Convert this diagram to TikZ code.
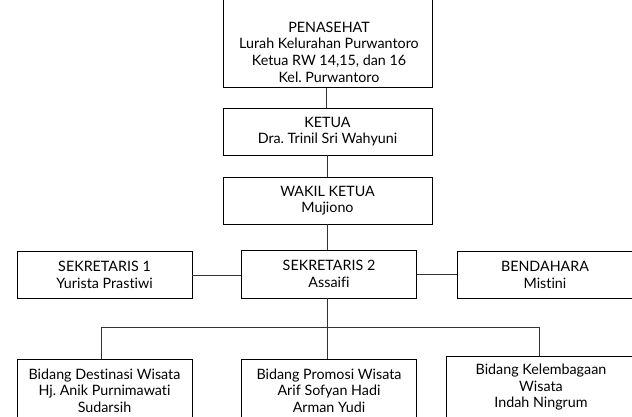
\documentclass[tikz,border=0pt]{standalone}
\usepackage{fontspec}
\setmainfont[Ligatures=NoCommon]{Lato}
\frenchspacing
\begin{document}
\begin{tikzpicture}[x=1pt,y=-1pt,
  box/.style={draw=black,line width=0.8pt,fill=white,inner sep=0pt,align=center,
    font=\fontsize{14.3}{16.6}\selectfont,text=black},
  txt/.style={inner sep=0pt,align=center,font=\fontsize{14.3}{16.6}\selectfont,text=black},
  conn/.style={draw=black!80,line width=0.8pt}]
\useasboundingbox (0,0) rectangle (632,416);
\clip (0,0) rectangle (632,416);
% boxes
\node[box,minimum width=209pt,minimum height=120pt,anchor=south] (pen) at (327.5,88) {};
\node[txt] (pentxt) at (329,52) {PENASEHAT\\Lurah Kelurahan Purwantoro\\Ketua RW 14,15, dan 16\\Kel. Purwantoro};
\node[box,minimum width=209pt,minimum height=47pt] (ketua) at (327.5,131.5) {KETUA\\Dra. Trinil Sri Wahyuni};
\node[box,minimum width=209pt,minimum height=47pt] (wakil) at (327.5,200.5) {WAKIL KETUA\\Mujiono};
\node[box,minimum width=175pt,minimum height=47pt] (sek1) at (104.5,275) {SEKRETARIS 1\\Yurista Prastiwi};
\node[box,minimum width=175pt,minimum height=48pt] (sek2) at (329,274) {SEKRETARIS 2\\Assaifi};
\node[box,minimum width=176pt,minimum height=47pt] (bend) at (545,275) {BENDAHARA\\Mistini};
\node[box,minimum width=175pt,minimum height=62pt,anchor=north] (dest) at (104.5,359) {Bidang Destinasi Wisata\\Hj. Anik Purnimawati\\Sudarsih};
\node[box,minimum width=175pt,minimum height=62pt,anchor=north] (prom) at (329,359) {Bidang Promosi Wisata\\Arif Sofyan Hadi\\Arman Yudi};
\node[box,minimum width=190pt,minimum height=62pt,anchor=north] (kel) at (541,356) {Bidang Kelembagaan\\Wisata\\Indah Ningrum};
% connectors
\coordinate (busM) at (327,327);
\coordinate (busL) at (101,327);
\coordinate (busR) at (539,327);
\draw[conn] (326,88) -- (326,108);
\draw[conn] (327,155) -- (327,177);
\draw[conn] (327,224) -- (327,250);
\draw[conn] (sek1.east) -- (sek1.east -| sek2.west);
\draw[conn] (sek2.east) -- (sek2.east -| bend.west);
\draw[conn] (327,298) -- (busM);
\draw[conn] (busL) -- (busR);
\draw[conn] (busL) -- (busL |- dest.north);
\draw[conn] (busM) -- (busM |- prom.north);
\draw[conn] (busR) -- (busR |- kel.north);
\end{tikzpicture}
\end{document}
